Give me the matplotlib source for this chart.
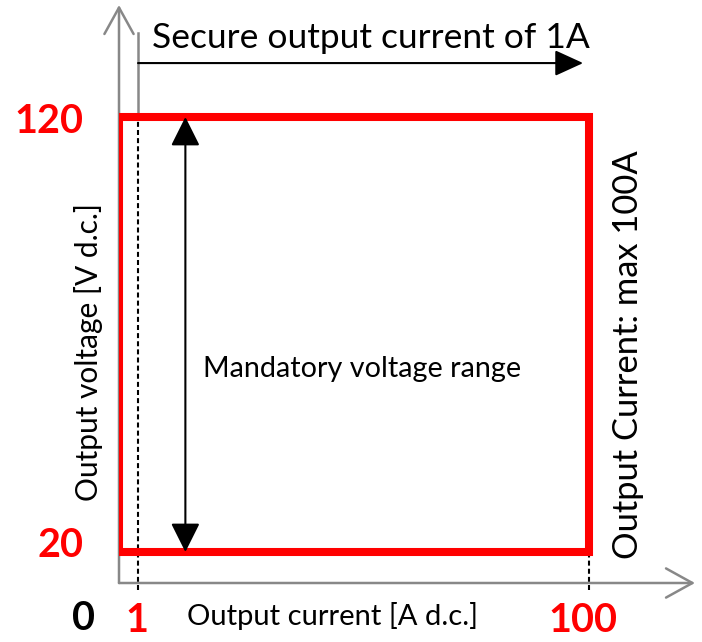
"""
Charger output envelope - schematic voltage/current range
"""

import matplotlib.pyplot as plt
from matplotlib.patches import Rectangle

# Values shown in the picture
current_min = 1       # A, secure output current
current_max = 100     # A, max output current
voltage_min = 20      # V d.c.
voltage_max = 120     # V d.c.
origin_label = "0"

x_label = "Output current [A d.c.]"
y_label = "Output voltage [V d.c.]"
top_note = "Secure output current of 1A"
right_note = "Output Current: max 100A"
range_note = "Mandatory voltage range"

plt.rcParams["font.family"] = ["Lato", "DejaVu Sans"]

fig = plt.figure(figsize=(7.02, 6.42), dpi=100)
ax = fig.add_axes([0.16952, 0.0919, 0.82051, 0.90031])
ax.set_xlim(-3.17, 123.26)
ax.set_ylim(12.87, 145.75)
ax.axis("off")

gray = "#888888"
red = "#ff0000"

# Gray axes with open arrow heads
axis_arrow = dict(arrowstyle="->,head_length=1.9,head_width=1.05",
                  color=gray, lw=1.8, shrinkA=0, shrinkB=0)
ax.annotate("", xy=(0, 1), xytext=(0, 0), xycoords="axes fraction",
            arrowprops=axis_arrow, annotation_clip=False)
ax.annotate("", xy=(1, 0), xytext=(0, 0), xycoords="axes fraction",
            arrowprops=axis_arrow, annotation_clip=False)

# Operating envelope
x0 = ax.get_xlim()[0]
rect = Rectangle((x0, voltage_min), current_max - x0, voltage_max - voltage_min,
                 fill=False, edgecolor=red, lw=5.8, joinstyle="miter", zorder=3)
ax.add_patch(rect)

# Dashed markers at 1A and 100A
ybot = 11.3
ax.plot([current_min, current_min], [ybot, voltage_max], ls=(0, (2.4, 1.5)),
        color="black", lw=1.5, zorder=2, clip_on=False)
ax.plot([current_min, current_min], [voltage_max, 139.3], color=gray, lw=1.8,
        zorder=2, clip_on=False)
ax.plot([current_max, current_max], [ybot, voltage_min], ls=(0, (2.4, 1.5)),
        color="black", lw=1.5, zorder=2, clip_on=False)

# Secure output current arrow
ax.annotate("", xy=(98.7, 132.4), xytext=(current_min, 132.4),
            arrowprops=dict(arrowstyle="-|>,head_length=1.75,head_width=0.8",
                            color="black", lw=1.5, shrinkA=0, shrinkB=0))
ax.text(current_min + 3.0, 135.9, top_note, fontsize=25.5, ha="left",
        va="baseline")

# Mandatory voltage range arrow
ax.annotate("", xy=(11.4, voltage_max), xytext=(11.4, voltage_min),
            arrowprops=dict(arrowstyle="<|-|>,head_length=1.8,head_width=0.9",
                            color="black", lw=1.5, shrinkA=0, shrinkB=0),
            zorder=4)
ax.text(15.3, 60.2, range_note, fontsize=20.7, ha="left", va="baseline")

# Right-hand note
ax.text(108.5, 65.3, right_note, fontsize=24.8, rotation=90, ha="center",
        va="center")

# Tick labels
tick_kw = dict(fontsize=28.5, fontweight="bold", color=red, va="baseline")
ax.text(-11.07, 116.3, str(voltage_max), ha="right", **tick_kw)
ax.text(-11.07, 18.85, str(voltage_min), ha="right", **tick_kw)
ax.text(0.78, 1.6, str(current_min), ha="center", **tick_kw)
ax.text(98.7, 1.6, str(current_max), ha="center", **tick_kw)
ax.text(-11.0, 2.07, origin_label, fontsize=28.5, fontweight="bold",
        color="black", ha="center", va="baseline")

# Axis titles
ax.text(43.6, 3.2, x_label, fontsize=21, ha="center", va="baseline")
ax.text(-9.97, 66.0, y_label, fontsize=21.5, rotation=90, ha="center",
        va="center")

fig.savefig("out.png", dpi=100)
plt.close(fig)
